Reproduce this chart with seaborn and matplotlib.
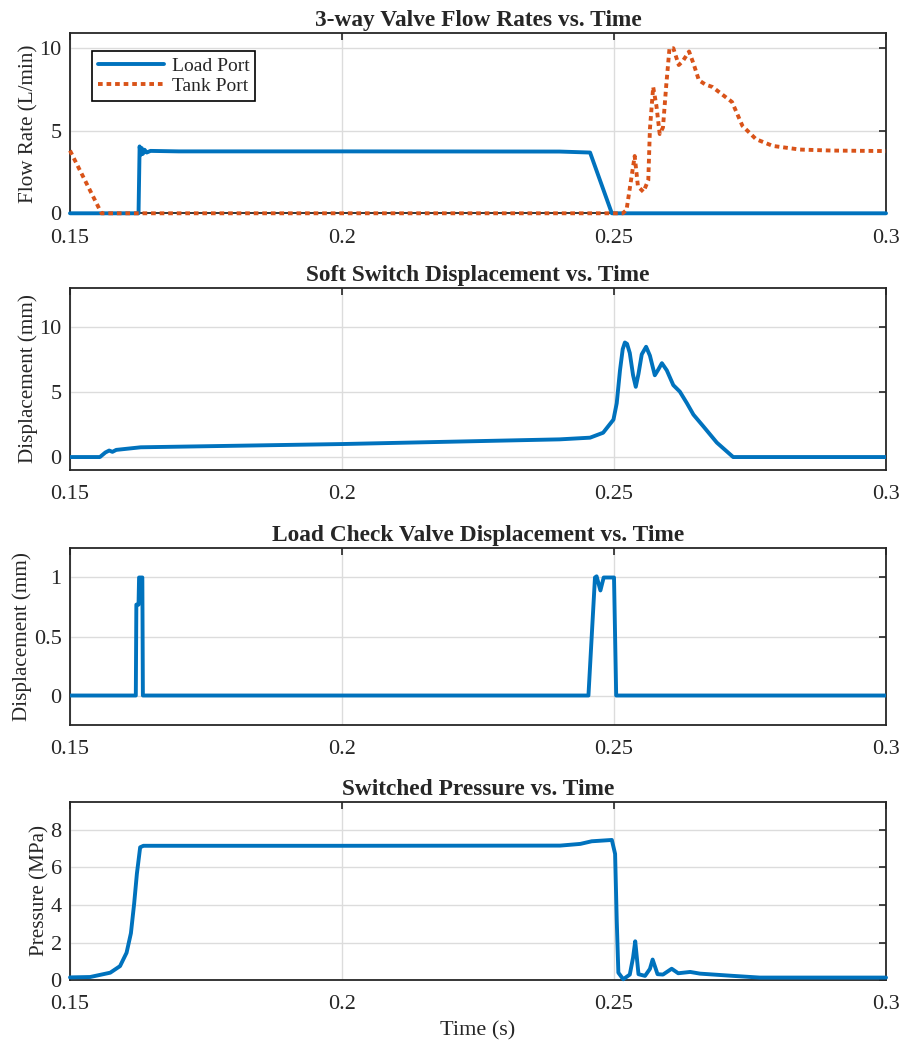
import numpy as np
import pandas as pd
import matplotlib.pyplot as plt
import seaborn as sns

# --- data ---
load_t = [0.15, 0.1626, 0.1628, 0.1630, 0.1632, 0.1634, 0.1637, 0.1641, 0.1648, 0.17, 0.2, 0.24,
          0.2456, 0.2496, 0.2505, 0.3]
load_q = [0.0, 0.0, 4.05, 3.55, 3.95, 3.6, 3.85, 3.68, 3.78, 3.75, 3.75, 3.74,
          3.68, 0.0, 0.0, 0.0]

tank_t = [0.15, 0.1558, 0.2, 0.2505, 0.2516, 0.2523, 0.2538, 0.2544, 0.2554, 0.2563, 0.2566,
          0.2572, 0.2578, 0.2584, 0.259, 0.2596, 0.2602, 0.2609, 0.2619, 0.2626, 0.2638,
          0.2647, 0.2656, 0.2668, 0.2681, 0.2717, 0.2736, 0.2761, 0.2792, 0.2842, 0.29, 0.3]
tank_q = [3.8, 0.0, 0.0, 0.0, 0.0, 0.2, 3.47, 1.63, 1.3, 2.0, 5.1,
          7.65, 6.5, 4.8, 5.2, 7.75, 10.0, 10.0, 8.98, 9.2, 9.8,
          8.98, 8.06, 7.8, 7.65, 6.74, 5.3, 4.49, 4.08, 3.86, 3.8, 3.77]

sw_t = [0.15, 0.1555, 0.1565, 0.1572, 0.1578, 0.1585, 0.163, 0.2, 0.24, 0.2456, 0.248, 0.2499,
        0.2505, 0.2511, 0.2516, 0.252, 0.2524, 0.2529, 0.2535, 0.254, 0.2545, 0.2551, 0.2559,
        0.2566, 0.2575, 0.2581, 0.2588, 0.2597, 0.2609, 0.2621, 0.2634, 0.2646, 0.2664,
        0.2689, 0.2719, 0.3]
sw_x = [0.0, 0.0, 0.35, 0.5, 0.4, 0.55, 0.75, 1.0, 1.36, 1.49, 1.87, 2.88,
        4.14, 6.67, 8.3, 8.81, 8.7, 8.0, 6.3, 5.4, 6.4, 7.9, 8.48,
        7.8, 6.29, 6.7, 7.22, 6.67, 5.53, 5.03, 4.14, 3.26, 2.37,
        1.11, 0.0, 0.0]

chk_t = [0.15, 0.1621, 0.1622, 0.1626, 0.1627, 0.1633, 0.1634, 0.2453, 0.2465, 0.2468,
         0.2475, 0.2481, 0.25, 0.2504, 0.3]
chk_x = [0.0, 0.0, 0.77, 0.77, 1.0, 1.0, 0.0, 0.0, 1.0, 1.01,
         0.89, 1.0, 1.0, 0.0, 0.0]

pr_t = [0.15, 0.1537, 0.1574, 0.1592, 0.1604, 0.1612, 0.1618, 0.1623, 0.1629, 0.1635, 0.2,
        0.2401, 0.2438, 0.2459, 0.2496, 0.2502, 0.2505, 0.2508, 0.2517, 0.2529, 0.2535,
        0.2539, 0.2545, 0.2557, 0.2566, 0.2571, 0.258, 0.259, 0.2606, 0.2618, 0.264,
        0.2658, 0.2719, 0.2768, 0.3]
pr_p = [0.15, 0.17, 0.4, 0.75, 1.46, 2.5, 4.09, 5.67, 7.07, 7.15, 7.15,
        7.16, 7.25, 7.39, 7.46, 6.72, 3.2, 0.4, 0.05, 0.3, 1.2,
        2.07, 0.32, 0.23, 0.6, 1.1, 0.32, 0.3, 0.61, 0.37, 0.44,
        0.35, 0.23, 0.14, 0.14]

blue = '#0072BD'
orange = '#D95319'

sns.set_style('whitegrid')
plt.rcParams['font.family'] = ['Liberation Serif', 'DejaVu Serif']

fig = plt.figure(figsize=(9.03, 10.42), dpi=100)
L, W = 0.0775, 0.9037
boxes = [(0.7953, 0.1727), (0.5489, 0.1747), (0.3042, 0.1699), (0.0593, 0.1714)]
axes = [fig.add_axes([L, b, W, h]) for b, h in boxes]

ax = axes[0]
sns.lineplot(x=load_t, y=load_q, ax=ax, color=blue, lw=2.8, label='Load Port',
             clip_on=False, zorder=3)
sns.lineplot(x=tank_t, y=tank_q, ax=ax, color=orange, lw=2.8, ls=(0, (1.2, 1.0)),
             label='Tank Port', clip_on=False, zorder=4)
ax.set_ylim(0, 10.9)
ax.set_yticks([0, 5, 10])
ax.set_ylabel('Flow Rate (L/min)')
ax.set_title('3-way Valve Flow Rates vs. Time')
leg = ax.legend(loc='upper left', bbox_to_anchor=(0.027, 0.9), fontsize=14, fancybox=False,
                framealpha=1, edgecolor='black', borderpad=0.3, handlelength=3.4,
                labelspacing=0.12, handletextpad=0.4, borderaxespad=0)
leg.get_frame().set_linewidth(1.2)

ax = axes[1]
sns.lineplot(x=sw_t, y=sw_x, ax=ax, color=blue, lw=2.8, zorder=3)
ax.set_ylim(-1, 13)
ax.set_yticks([0, 5, 10])
ax.set_ylabel('Displacement (mm)')
ax.set_title('Soft Switch Displacement vs. Time')

ax = axes[2]
sns.lineplot(x=chk_t, y=chk_x, ax=ax, color=blue, lw=2.8, zorder=3)
ax.set_ylim(-0.25, 1.25)
ax.set_yticks([0, 0.5, 1])
ax.set_yticklabels(['0', '0.5', '1'])
ax.set_ylabel('Displacement (mm)')
ax.set_title('Load Check Valve Displacement vs. Time')

ax = axes[3]
sns.lineplot(x=pr_t, y=pr_p, ax=ax, color=blue, lw=2.8, clip_on=False, zorder=3)
ax.set_ylim(0, 9.5)
ax.set_yticks([0, 2, 4, 6, 8])
ax.set_ylabel('Pressure (MPa)')
ax.set_xlabel('Time (s)', fontsize=16)
ax.xaxis.labelpad = 5
ax.set_title('Switched Pressure vs. Time')

for ax in axes:
    ax.set_xlim(0.15, 0.3)
    ax.set_xticks([0.15, 0.2, 0.25, 0.3])
    ax.set_xticklabels(['0.15', '0.2', '0.25', '0.3'])
    ax.grid(True, color='#dcdcdc', lw=1.0)
    ax.set_axisbelow(True)
    for s in ax.spines.values():
        s.set_color('#262626')
        s.set_linewidth(1.3)
        s.set_visible(True)
    ax.tick_params(direction='in', length=5, width=1.2, top=True, right=True,
                   labelsize=16, color='#262626')
    ax.tick_params(axis='x', pad=11)
    ax.tick_params(axis='y', pad=6)
    ax.set_title(ax.get_title(), fontweight='bold', fontsize=16.8, pad=5)
    ax.yaxis.label.set_fontsize(15.2)
    ax.yaxis.labelpad = 1

fig.savefig('out.png', dpi=100, facecolor='white')
